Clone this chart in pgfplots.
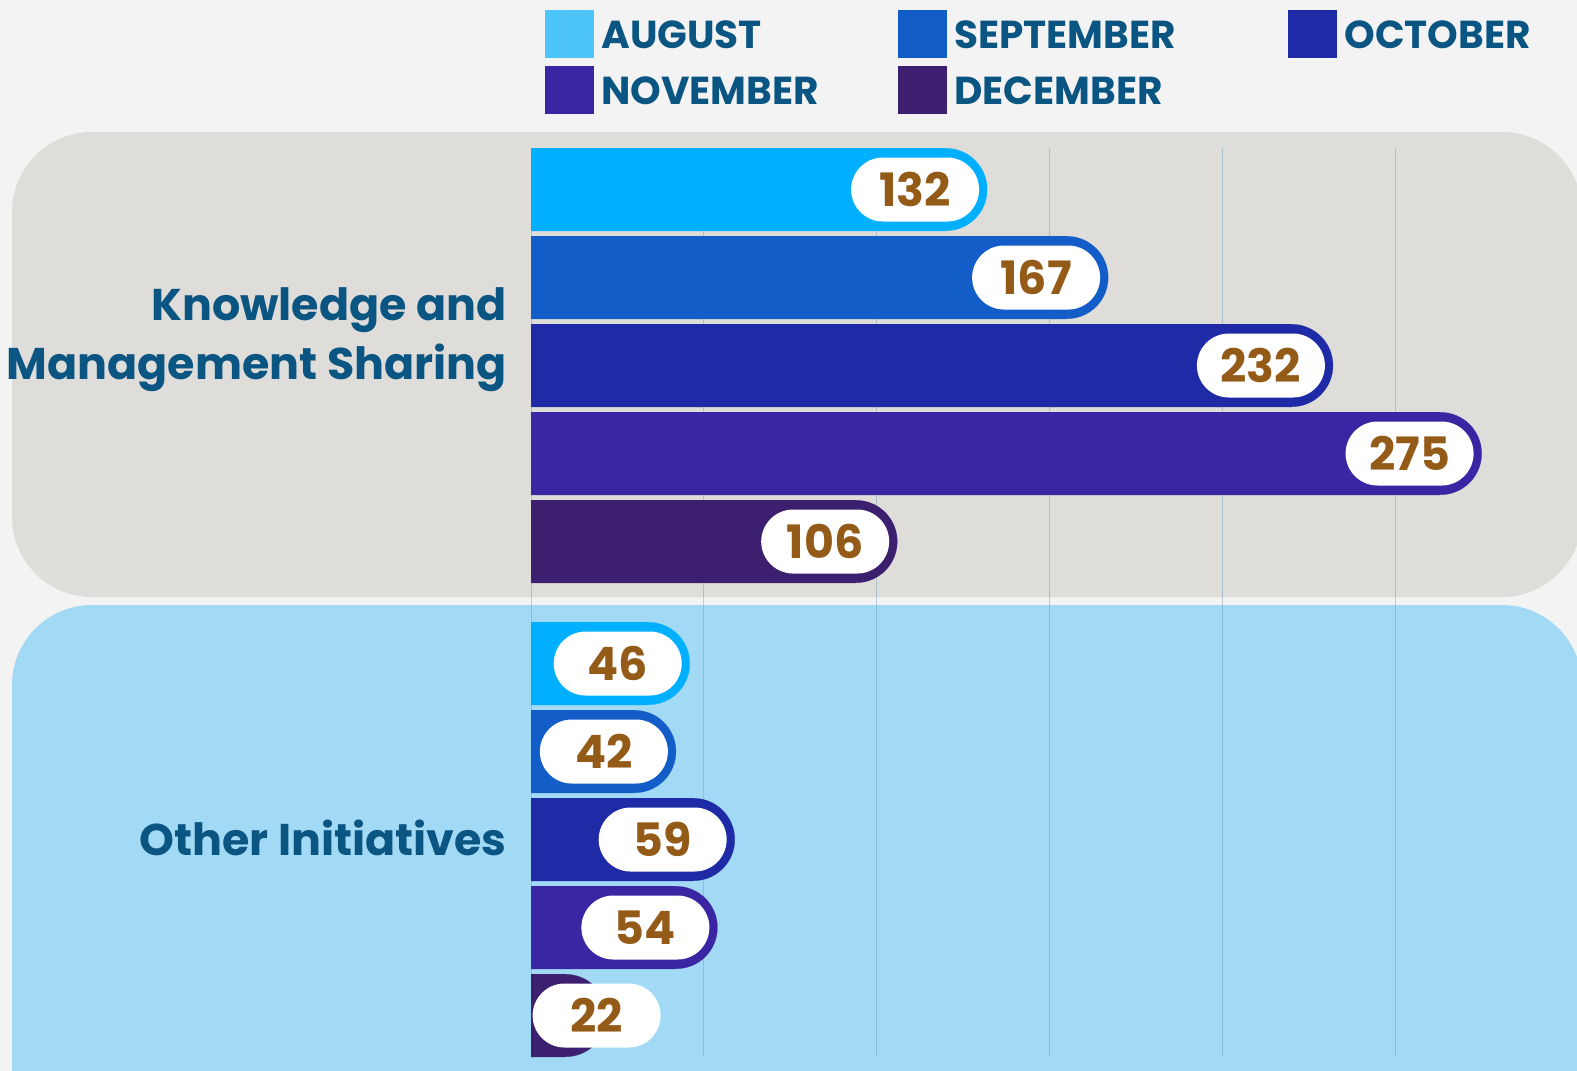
\documentclass[border=0pt]{standalone}
\usepackage{pgfplots}
\pgfplotsset{compat=1.18}
\usepackage{pgfplotstable}
\usepackage{fontspec}
\setmainfont{Poppins}
\definecolor{cAug}{HTML}{00B0FF}
\definecolor{cAugL}{HTML}{4DC4FA}
\definecolor{cSep}{HTML}{135DC9}
\definecolor{cOct}{HTML}{1E2AA6}
\definecolor{cNov}{HTML}{3A25A2}
\definecolor{cDec}{HTML}{3D1F6F}
\definecolor{txtblue}{HTML}{0B5583}
\definecolor{numbrown}{HTML}{945A17}
\definecolor{bgpage}{HTML}{F3F3F3}
\definecolor{pgray}{HTML}{DEDDD9}
\definecolor{pblue}{HTML}{A2DAF5}
\definecolor{gridc}{HTML}{6F9CC0}

\pgfplotstableread{
y v
189.5 132
663.5 46
}\augdata
\pgfplotstableread{
y v
277.5 167
751.5 42
}\sepdata
\pgfplotstableread{
y v
365.5 232
839.5 59
}\octdata
\pgfplotstableread{
y v
453.5 275
927.5 54
}\novdata
\pgfplotstableread{
y v
541.5 106
1015.5 22
}\decdata

\pgfplotsset{
  barpart/.style={xbar, bar width=83, bar shift=0pt, draw=none, fill=#1},
  cappart/.style={color=#1, only marks, mark=*, mark size=20.6pt, mark options={solid, draw=#1, fill=#1, line width=0.1pt}},
  pillpart/.style={draw=none, mark=none, nodes near coords, point meta=explicit symbolic,
    nodes near coords style={anchor=east, fill=white, rounded corners=16pt,
      minimum width=64pt, minimum height=32pt, inner sep=0pt,
      text=numbrown, font=\fontsize{23}{25}\selectfont\bfseries}},
}

\begin{document}
\begin{tikzpicture}
\begin{scope}[x=0.5pt,y=-0.5pt]
\path[use as bounding box] (0,0) rectangle (1577,1068);
\begin{scope}
\clip (-4,-4) rectangle (1581,1072);
\fill[bgpage] (-4,-4) rectangle (1581,1072);
\fill[pgray, rounded corners=40pt] (12,132) rectangle (1582,597);
\fill[pblue, rounded corners=40pt] (12,605) rectangle (1582,1200);
\end{scope}
% legend
\fill[cAugL] (545,10) rectangle (594,58);
\fill[cSep] (898,10) rectangle (947,58);
\fill[cOct] (1288,10) rectangle (1337,58);
\fill[cNov] (545,66) rectangle (594,114);
\fill[cDec] (898,66) rectangle (947,114);
\begin{scope}[every node/.style={anchor=west, inner sep=0pt, text=txtblue, font=\fontsize{19.5}{21}\selectfont\bfseries}]
\node at (601,35) {AUGUST};
\node at (954,35) {SEPTEMBER};
\node at (1344,35) {OCTOBER};
\node at (601,91) {NOVEMBER};
\node at (954,91) {DECEMBER};
\end{scope}
% category labels
\node[anchor=east, inner sep=0pt, align=right, text=txtblue, font=\fontsize{22.2}{29.5}\selectfont\bfseries] at (507,340) {Knowledge and\\Management Sharing};
\node[anchor=east, inner sep=0pt, align=right, text=txtblue, font=\fontsize{22.2}{29.5}\selectfont\bfseries] at (507,838) {Other Initiatives};
\end{scope}

\begin{axis}[at={(527pt,-301.25pt)}, anchor=center,
  scale only axis, width=523pt, height=454.5pt,
  xmin=0, xmax=302.49, ymin=148, ymax=1057, y dir=reverse,
  clip marker paths=true,
  axis line style={draw=none}, tick style={draw=none},
  xtick={0,50,100,150,200,250}, xticklabels={}, ytick=\empty,
  xmajorgrids, grid style={gridc, opacity=0.45, line width=0.5pt},
]
\addplot[barpart=cAug] table[x expr=\thisrow{v}-12, y=y]{\augdata};
\addplot[cappart=cAug] table[x expr=\thisrow{v}-12, y=y]{\augdata};
\addplot[barpart=cSep] table[x expr=\thisrow{v}-12, y=y]{\sepdata};
\addplot[cappart=cSep] table[x expr=\thisrow{v}-12, y=y]{\sepdata};
\addplot[barpart=cOct] table[x expr=\thisrow{v}-12, y=y]{\octdata};
\addplot[cappart=cOct] table[x expr=\thisrow{v}-12, y=y]{\octdata};
\addplot[barpart=cNov] table[x expr=\thisrow{v}-12, y=y]{\novdata};
\addplot[cappart=cNov] table[x expr=\thisrow{v}-12, y=y]{\novdata};
\addplot[barpart=cDec] table[x expr=\thisrow{v}-12, y=y]{\decdata};
\addplot[cappart=cDec] table[x expr=\thisrow{v}-12, y=y]{\decdata};
\addplot[pillpart] table[x expr={max(\thisrow{v}-2.3,37.6)}, y=y, meta=v]{\augdata};
\addplot[pillpart] table[x expr={max(\thisrow{v}-2.3,37.6)}, y=y, meta=v]{\sepdata};
\addplot[pillpart] table[x expr={max(\thisrow{v}-2.3,37.6)}, y=y, meta=v]{\octdata};
\addplot[pillpart] table[x expr={max(\thisrow{v}-2.3,37.6)}, y=y, meta=v]{\novdata};
\addplot[pillpart] table[x expr={max(\thisrow{v}-2.3,37.6)}, y=y, meta=v]{\decdata};
\end{axis}
\end{tikzpicture}
\end{document}
